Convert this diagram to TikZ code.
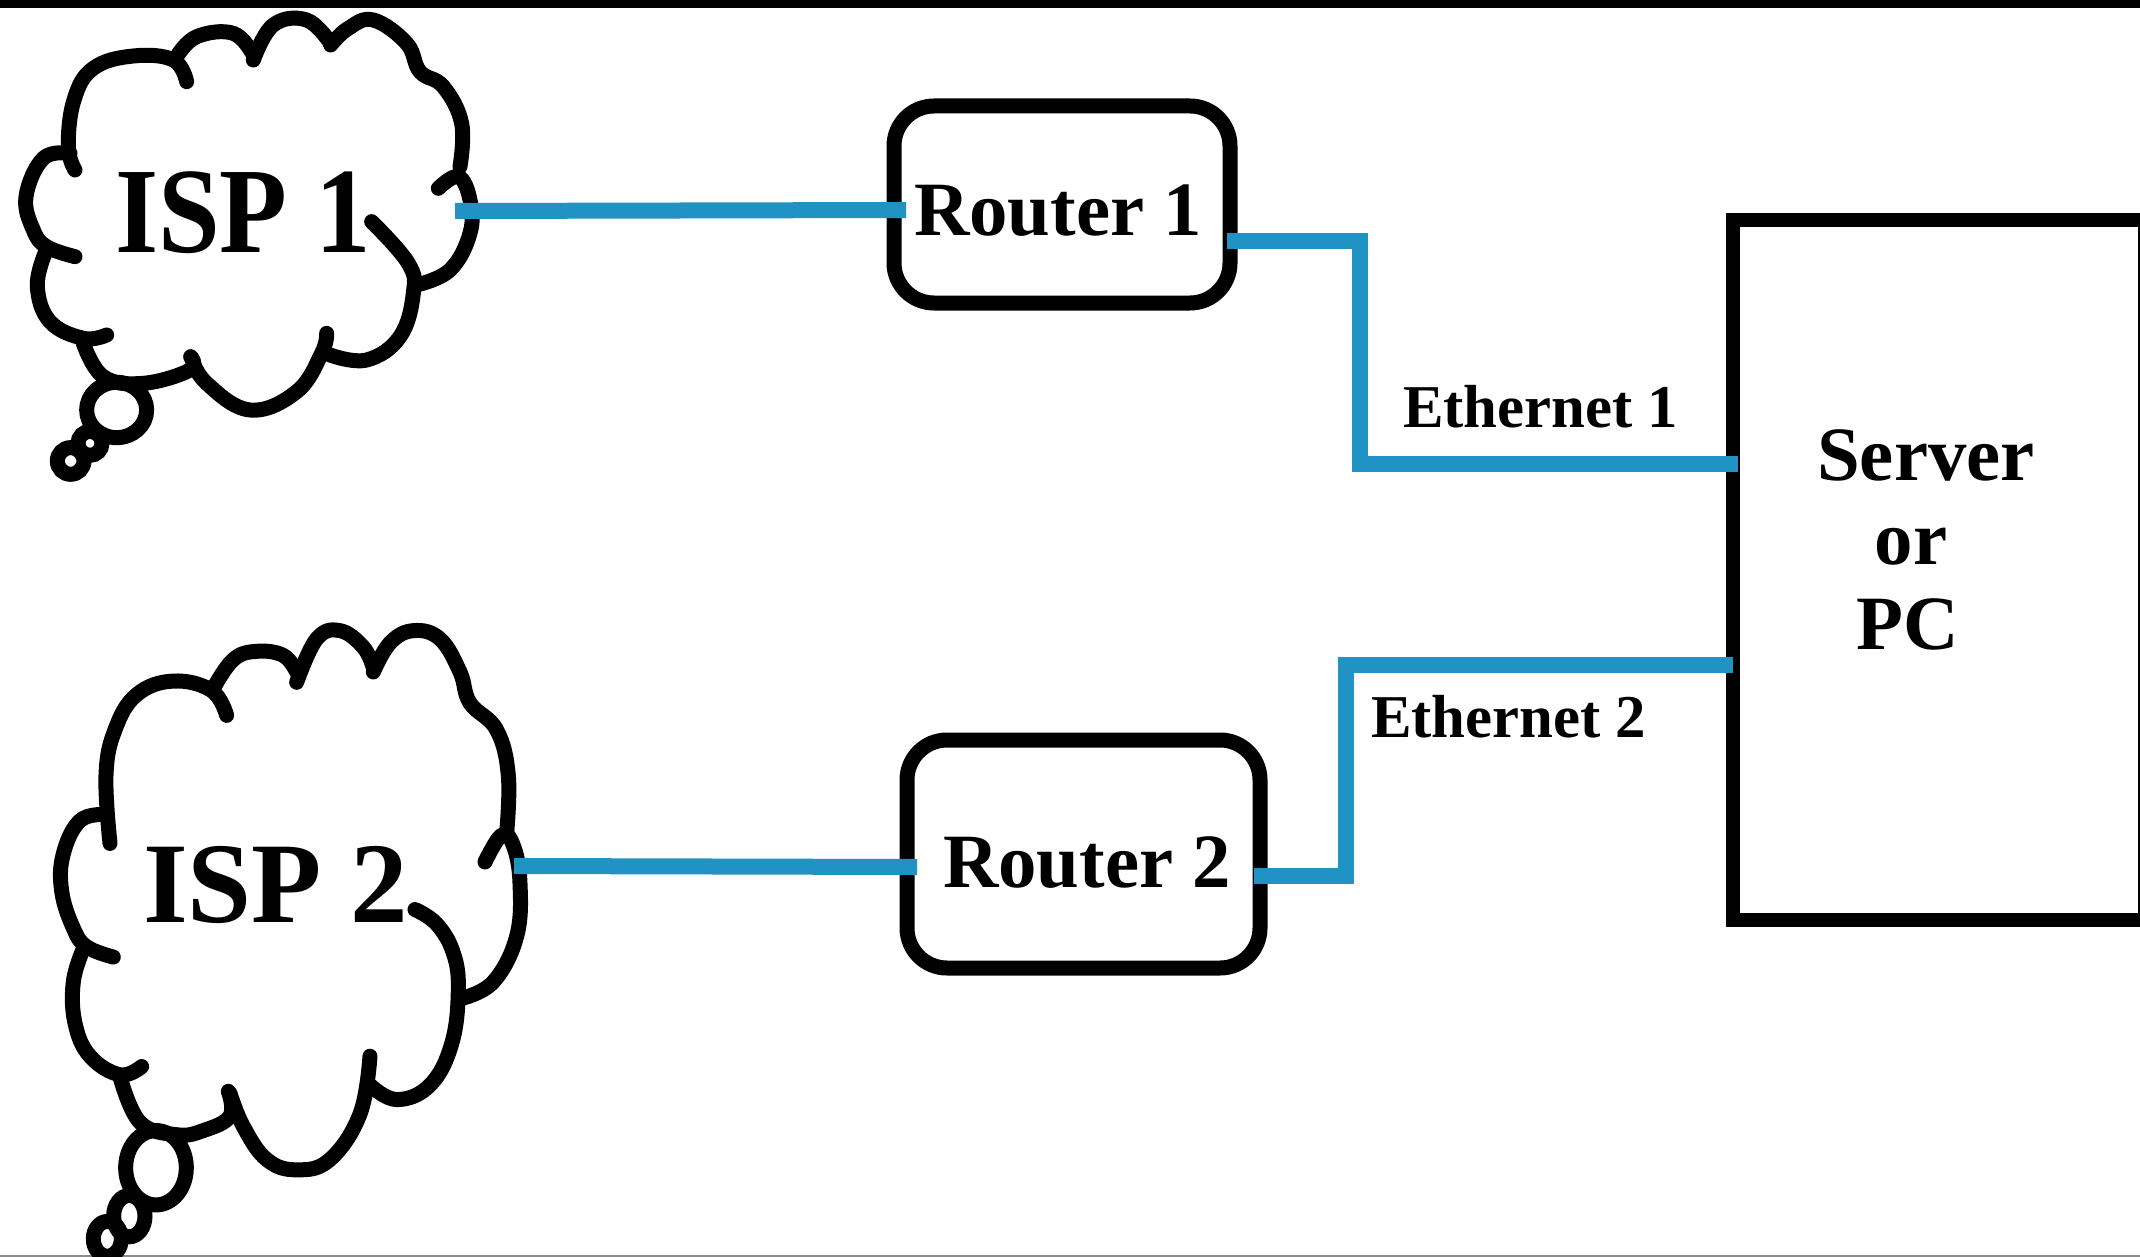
\documentclass[tikz,border=0pt]{standalone}
\usepackage{fontspec}
\setmainfont{Liberation Serif}
\definecolor{linkblue}{HTML}{2092C4}
\tikzset{
  lobe/.style={draw=black,line width=7.5pt,line cap=round,line join=round},
  bubble/.style={draw=black,line width=7.5pt},
  routerbox/.style={draw=black,line width=7.5pt,rounded corners=20pt,outer sep=0pt,inner sep=0pt,fill=white},
  serverbox/.style={draw=black,line width=7pt,outer sep=0pt,inner sep=0pt,fill=white},
  link/.style={draw=linkblue,line width=8pt,line cap=butt,line join=miter},
  textlabel/.style={inner sep=0pt,outer sep=0pt,anchor=base west,font=\bfseries\fontsize{38.4pt}{40pt}\selectfont},
  smalllabel/.style={textlabel,font=\bfseries\fontsize{30.4pt}{32pt}\selectfont},
}
\newcommand{\lobeline}[1]{\draw[lobe] plot[smooth,tension=0.68] coordinates {#1};}
\begin{document}
\begin{tikzpicture}[x=0.5pt,y=-0.5pt]
\useasboundingbox (0,0) rectangle (2140,1257);
\fill[white] (0,0) rectangle (2140,1257);
\fill[black] (0,0) rectangle (2140,8);
\fill[black!45] (0,1255) rectangle (2140,1257);

% Cloud 1
\begin{scope}[x={0.5pt/3},y={-0.5pt/3}]
\lobeline{(560,245)(520,180)(400,168)(280,205)(222,300)(205,440)(225,510)}
\lobeline{(210,460)(130,475)(78,590)(100,690)(140,740)(225,770)}
\lobeline{(135,760)(112,860)(150,965)(250,1015)(320,1005)}
\lobeline{(250,1030)(310,1130)(430,1150)(570,1110)(572,1070)}
\lobeline{(575,1075)(620,1150)(750,1230)(890,1175)(965,1060)(980,1000)}
\lobeline{(990,1065)(1100,1080)(1200,1010)(1240,880)(1225,790)(1115,665)}
\lobeline{(1250,855)(1350,810)(1410,700)(1410,600)(1375,530)(1315,565)}
\lobeline{(1380,500)(1385,370)(1330,260)(1260,215)(1220,130)(1120,60)(1045,85)(992,135)}
\lobeline{(992,130)(920,60)(820,75)(760,180)}
\lobeline{(760,165)(700,100)(590,110)(530,170)}
\draw[bubble] (350,1230) ellipse [x radius=90,y radius=83];
\draw[bubble] (270,1330) ellipse [x radius=36,y radius=36];
\draw[bubble] (212,1383) ellipse [x radius=40,y radius=40];
\end{scope}

% Cloud 2
\begin{scope}[shift={(30,610)},x={0.5pt/3},y={-0.5pt/2.42}]
\lobeline{(590,255)(545,195)(430,172)(320,205)(255,290)(228,400)(240,565)}
\lobeline{(225,495)(150,510)(100,590)(95,680)(130,770)(170,815)(250,840)}
\lobeline{(160,820)(130,900)(135,1000)(180,1080)(270,1125)(335,1105)}
\lobeline{(270,1130)(330,1240)(440,1270)(520,1260)(600,1225)(595,1165)}
\lobeline{(600,1170)(640,1250)(710,1330)(800,1355)(900,1330)(990,1220)(1020,1080)}
\lobeline{(1020,1150)(1100,1185)(1200,1150)(1265,1050)(1285,920)(1270,830)(1220,760)(1155,725)}
\lobeline{(1295,940)(1390,900)(1460,790)(1470,660)(1450,570)(1415,545)(1365,610)}
\lobeline{(1430,540)(1435,400)(1400,290)(1320,225)(1290,150)(1230,70)(1150,50)(1080,80)(1030,150)}
\lobeline{(1030,140)(1000,90)(930,50)(860,70)(800,175)}
\lobeline{(800,150)(760,110)(680,100)(610,120)(550,190)}
\draw[bubble] (378,1350) ellipse [x radius=91,y radius=90];
\draw[bubble] (298,1467) ellipse [x radius=47,y radius=50];
\draw[bubble] (232,1522) ellipse [x radius=42,y radius=42];
\end{scope}

% Boxes
\node[routerbox,minimum width=168pt,minimum height=98.5pt] (r1) at (1062,204.5) {};
\node[routerbox,minimum width=176.5pt,minimum height=114pt] (r2) at (1083.5,854) {};
\node[serverbox,minimum width=206pt,minimum height=350pt] (srv) at (1939,570) {};

% Connection points
\coordinate (isp1port) at (455,211);
\coordinate (isp2port) at (514,866);
\coordinate (e1a) at (1360,241);
\coordinate (e1b) at (1360,464);
\coordinate (e2a) at (1346,876);
\coordinate (e2b) at (1346,664.5);

% Links
\draw[link] (isp1port) -- ([xshift=6pt,yshift=-2.75pt]r1.west);
\draw[link] (isp2port) -- ([xshift=5pt,yshift=-6.5pt]r2.west);
\draw[link] ([xshift=-1.5pt,yshift=-18.25pt]r1.east) -- (e1a) -- (e1b) -- ([xshift=2.5pt,yshift=53pt]srv.west);
\draw[link] ([xshift=-3pt,yshift=-11pt]r2.east) -- (e2a) -- (e2b) -- ([yshift=-47.25pt]srv.west);

% Labels
\node[textlabel] (isp1text) at (115,252) {\fontsize{55.5pt}{58pt}\selectfont\scalebox{1}[1.1]{ISP 1}};
\node[textlabel] (isp2text) at (143,922) {\fontsize{57.5pt}{60pt}\selectfont ISP 2};
\node[textlabel] (r1text) at (914,235) {Router 1};
\node[textlabel] (r2text) at (943,887) {Router 2};
\node[smalllabel] (e1text) at (1403,427) {Ethernet 1};
\node[smalllabel] (e2text) at (1371,737) {Ethernet 2};
\node[textlabel,anchor=base] (srvtext) at (1926,480) {Server};
\node[textlabel,anchor=base] (ortext) at (1911,564) {or};
\node[textlabel,anchor=base] (pctext) at (1908,649) {PC};
\end{tikzpicture}
\end{document}
